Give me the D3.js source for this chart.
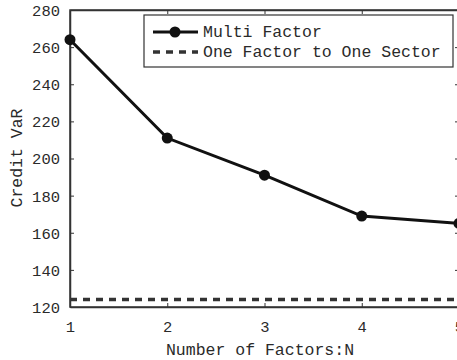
<!DOCTYPE html>
<html>
<head>
<meta charset="utf-8">
<script src="https://cdn.jsdelivr.net/npm/d3@7"></script>
<style>
  body { margin: 0; background: #fff; }
  text { font-family: "Liberation Mono", "Courier New", monospace; fill: #2a2a2a; }
</style>
</head>
<body>
<div id="chart"></div>
<script>
// data
const factors = [1, 2, 3, 4, 5];
const multiFactor = [264, 211, 191, 169, 165];
const oneFactorOneSector = 124;
const yTicks = [120, 140, 160, 180, 200, 220, 240, 260, 280];

const W = 457, H = 360;
const margin = {top: 10, right: -2, bottom: 53, left: 70};
const width = W - margin.left - margin.right;
const height = H - margin.top - margin.bottom;

const svg = d3.select("#chart").append("svg")
    .attr("width", W)
    .attr("height", H);

const g = svg.append("g")
    .attr("transform", `translate(${margin.left},${margin.top})`);

const x = d3.scaleLinear().domain([1, 5]).range([0, width]);
const y = d3.scaleLinear().domain([120, 280]).range([height, 0]);

// frame
g.append("rect")
    .attr("width", width).attr("height", height)
    .attr("fill", "none").attr("stroke", "#333").attr("stroke-width", 1.5);

// axes with inward ticks
const xAxis = g.append("g")
    .attr("transform", `translate(0,${height})`)
    .call(d3.axisBottom(x).tickValues(factors).tickFormat(d3.format("d")).tickSizeInner(-4).tickSizeOuter(0));
const yAxis = g.append("g")
    .call(d3.axisLeft(y).tickValues(yTicks).tickSizeInner(-4).tickSizeOuter(0));
g.append("g")
    .attr("transform", `translate(${width},0)`)
    .call(d3.axisRight(y).tickValues(yTicks).tickSizeInner(-4).tickSizeOuter(0).tickFormat(""));
g.append("g")
    .call(d3.axisTop(x).tickValues(factors).tickSizeInner(-4).tickSizeOuter(0).tickFormat(""));

g.selectAll(".domain").attr("stroke", "#333").attr("stroke-width", 1.5);
g.selectAll(".tick line").attr("stroke", "#333");
xAxis.selectAll("text").attr("font-size", 15.5).attr("dy", 0).attr("y", 25);
yAxis.selectAll("text").attr("font-size", 15.5).attr("x", -10).attr("dy", "0.35em");
g.selectAll(".tick text").style("font-family", "Liberation Mono").attr("fill", "#2a2a2a");

// dashed reference line
g.append("line")
    .attr("x1", x(1)).attr("x2", x(5))
    .attr("y1", y(oneFactorOneSector)).attr("y2", y(oneFactorOneSector))
    .attr("stroke", "#333").attr("stroke-width", 3.5)
    .attr("stroke-dasharray", "7,6");

// multi factor line
const line = d3.line().x((d, i) => x(factors[i])).y(d => y(d));
g.append("path")
    .datum(multiFactor)
    .attr("d", line)
    .attr("fill", "none").attr("stroke", "#111").attr("stroke-width", 3);

g.selectAll(".pt")
    .data(multiFactor)
    .enter().append("circle")
    .attr("class", "pt")
    .attr("cx", (d, i) => x(factors[i]))
    .attr("cy", d => y(d))
    .attr("r", 5.5)
    .attr("fill", "#111");

// axis labels
svg.append("text")
    .attr("x", 260).attr("y", 355)
    .attr("text-anchor", "middle")
    .attr("font-size", 16.5)
    .text("Number of Factors:N");

svg.append("text")
    .attr("transform", "translate(22,158) rotate(-90)")
    .attr("text-anchor", "middle")
    .attr("font-size", 16.5)
    .text("Credit VaR");

// legend
const legend = svg.append("g").attr("transform", "translate(144,15)");
legend.append("rect")
    .attr("width", 309).attr("height", 52)
    .attr("fill", "#fff").attr("stroke", "#333").attr("stroke-width", 1.2);
legend.append("line")
    .attr("x1", 9).attr("x2", 54).attr("y1", 17).attr("y2", 17)
    .attr("stroke", "#111").attr("stroke-width", 3);
legend.append("circle")
    .attr("cx", 31).attr("cy", 17).attr("r", 5.5).attr("fill", "#111");
legend.append("line")
    .attr("x1", 9).attr("x2", 54).attr("y1", 37).attr("y2", 37)
    .attr("stroke", "#333").attr("stroke-width", 3.5)
    .attr("stroke-dasharray", "7,6");
legend.append("text")
    .attr("x", 59).attr("y", 22)
    .attr("font-size", 16.5)
    .text("Multi Factor");
legend.append("text")
    .attr("x", 59).attr("y", 42)
    .attr("font-size", 16.5)
    .text("One Factor to One Sector");
</script>
</body>
</html>
